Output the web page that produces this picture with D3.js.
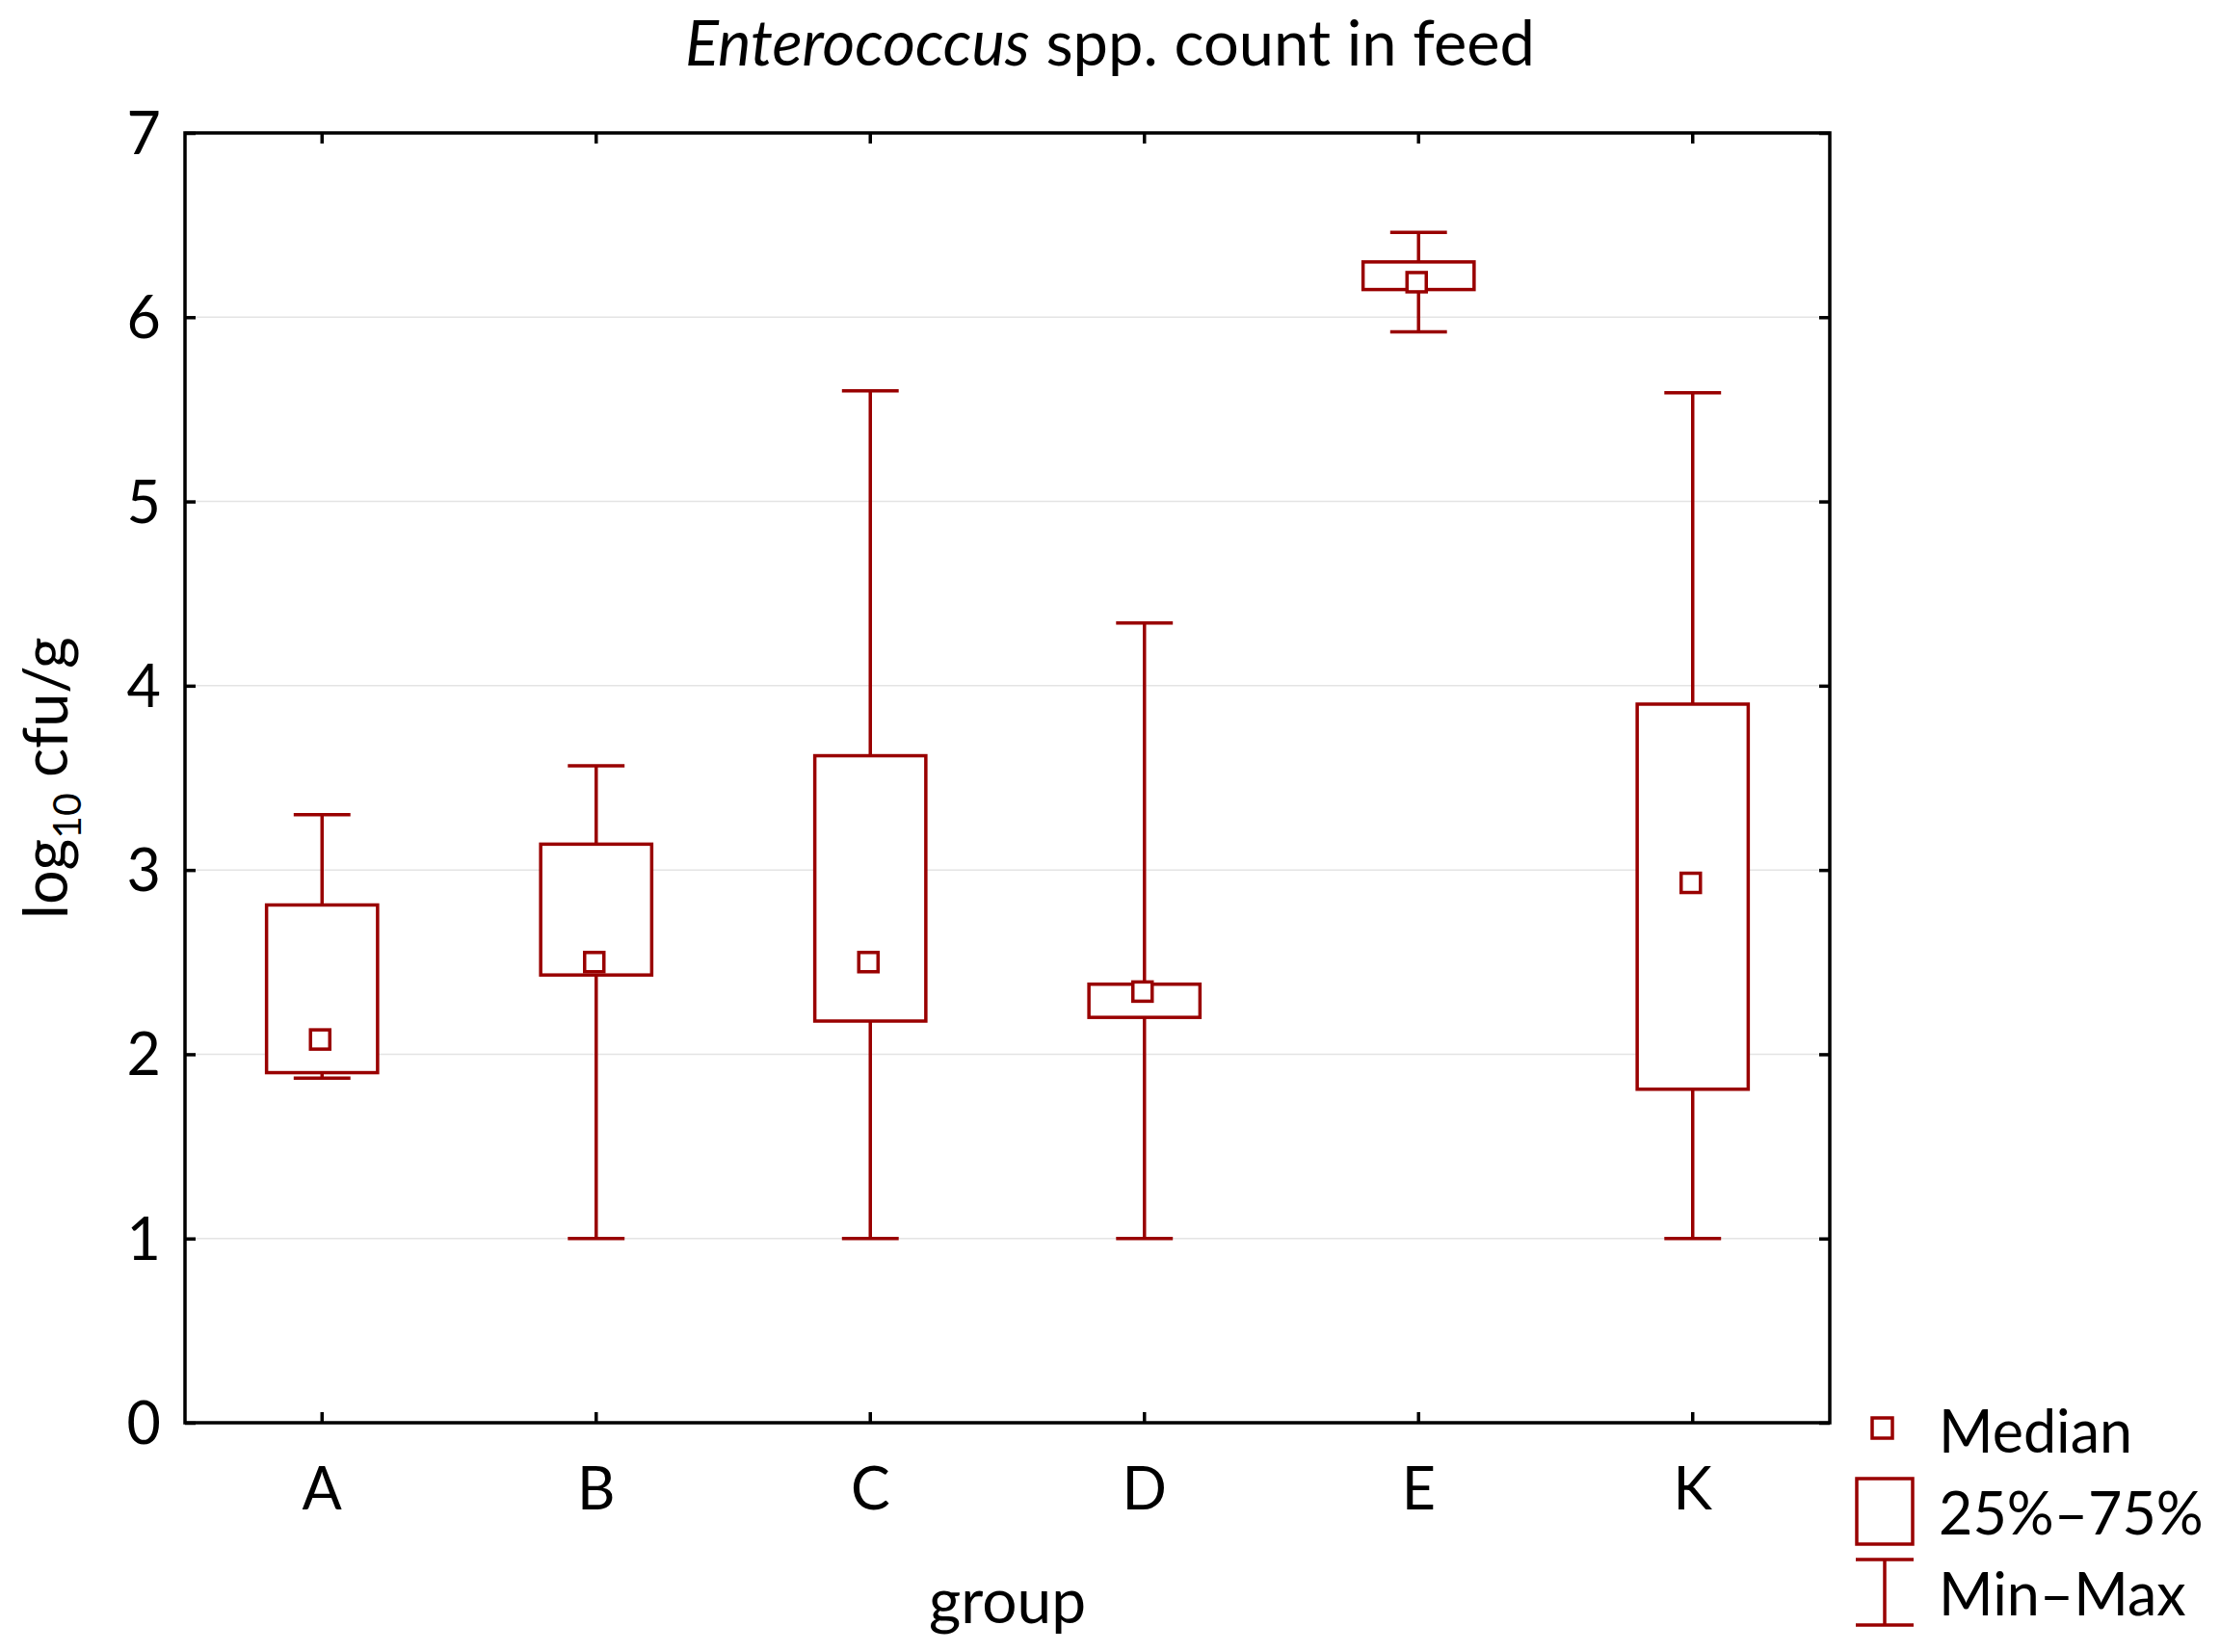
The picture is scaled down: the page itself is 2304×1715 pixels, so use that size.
<!DOCTYPE html>
<html>
<head>
<meta charset="utf-8">
<script src="https://cdn.jsdelivr.net/npm/d3@7"></script>
<style>
  body { margin: 0; background: #fff; }
  text { font-family: Lato, "Open Sans", sans-serif; fill: #000; }
</style>
</head>
<body>
<div id="chart"></div>
<script>
// data
const groups  = ['A', 'B', 'C', 'D', 'E', 'K'];
const minVals = [1.87, 1.00, 1.00, 1.00, 5.92, 1.00];
const q1Vals  = [1.90, 2.43, 2.18, 2.20, 6.15, 1.81];
const medVals = [2.08, 2.50, 2.50, 2.34, 6.19, 2.93];
const q3Vals  = [2.81, 3.14, 3.62, 2.38, 6.30, 3.90];
const maxVals = [3.30, 3.565, 5.60, 4.34, 6.46, 5.59];
const yTicks  = [0, 1, 2, 3, 4, 5, 6, 7];
const legendLabels = ['Median', '25%\u201375%', 'Min\u2013Max'];

const width = 2304, height = 1715;
const margin = {top: 138, right: 405, bottom: 238, left: 192};
const red = '#990000';
const strokeW = 3.5;

const svg = d3.select('#chart').append('svg')
    .attr('width', width)
    .attr('height', height);

const x = d3.scaleBand().domain(groups)
    .range([margin.left, width - margin.right])
    .padding(0);
const y = d3.scaleLinear().domain([0, 7])
    .range([height - margin.bottom, margin.top]);

const plotL = margin.left, plotR = width - margin.right;
const plotT = margin.top, plotB = height - margin.bottom;

// gridlines
svg.append('g').selectAll('line').data(yTicks.filter(d => d > 0 && d < 7))
  .join('line')
    .attr('x1', plotL).attr('x2', plotR)
    .attr('y1', d => y(d)).attr('y2', d => y(d))
    .attr('stroke', '#e4e4e4').attr('stroke-width', 1.5);

// axes with inner ticks on all sides
const tickLen = 11;
const axisLeft = svg.append('g').attr('transform', `translate(${plotL},0)`)
    .call(d3.axisRight(y).tickValues(yTicks).tickSize(tickLen).tickFormat(''));
const axisRight = svg.append('g').attr('transform', `translate(${plotR},0)`)
    .call(d3.axisLeft(y).tickValues(yTicks).tickSize(tickLen).tickFormat(''));
const axisBottom = svg.append('g').attr('transform', `translate(0,${plotB})`)
    .call(d3.axisTop(x).tickSize(tickLen).tickFormat(''));
const axisTop = svg.append('g').attr('transform', `translate(0,${plotT})`)
    .call(d3.axisBottom(x).tickSize(tickLen).tickFormat(''));
[axisLeft, axisRight, axisBottom, axisTop].forEach(a => {
  a.select('.domain').remove();
  a.selectAll('line').attr('stroke', '#000').attr('stroke-width', strokeW);
});

// frame
svg.append('rect')
    .attr('x', plotL).attr('y', plotT)
    .attr('width', plotR - plotL).attr('height', plotB - plotT)
    .attr('fill', 'none').attr('stroke', '#000').attr('stroke-width', strokeW);

// tick labels
svg.append('g').selectAll('text').data(yTicks)
  .join('text')
    .attr('x', plotL - 25).attr('y', d => y(d))
    .attr('dy', '0.36em')
    .attr('text-anchor', 'end')
    .style('font-size', '61px')
    .text(d => d);

svg.append('g').selectAll('text').data(groups)
  .join('text')
    .attr('x', d => x(d) + x.bandwidth() / 2)
    .attr('y', plotB + 90)
    .attr('text-anchor', 'middle')
    .style('font-size', '61px')
    .text(d => d);

// boxes
const boxW = x.bandwidth() * 0.405;
const capW = x.bandwidth() * 0.207;
const medS = 20;

const rows = groups.map((g, i) => ({
  g: g, min: minVals[i], q1: q1Vals[i], med: medVals[i], q3: q3Vals[i], max: maxVals[i]
}));

const boxG = svg.append('g').selectAll('g').data(rows).join('g')
    .attr('transform', d => `translate(${x(d.g) + x.bandwidth() / 2},0)`)
    .attr('stroke', red).attr('stroke-width', strokeW).attr('fill', 'none');

boxG.append('line')
    .attr('x1', 0).attr('x2', 0)
    .attr('y1', d => y(d.q3)).attr('y2', d => y(d.max));
boxG.append('line')
    .attr('x1', 0).attr('x2', 0)
    .attr('y1', d => y(d.q1)).attr('y2', d => y(d.min));
boxG.append('line')
    .attr('x1', -capW / 2).attr('x2', capW / 2)
    .attr('y1', d => y(d.max)).attr('y2', d => y(d.max));
boxG.append('line')
    .attr('x1', -capW / 2).attr('x2', capW / 2)
    .attr('y1', d => y(d.min)).attr('y2', d => y(d.min));
boxG.append('rect')
    .attr('x', -boxW / 2).attr('width', boxW)
    .attr('y', d => y(d.q3)).attr('height', d => y(d.q1) - y(d.q3))
    .attr('fill', '#fff');
boxG.append('rect')
    .attr('x', -medS / 2 - 2).attr('width', medS)
    .attr('y', d => y(d.med) - medS / 2).attr('height', medS)
    .attr('fill', '#fff');

// title
const title = svg.append('text')
    .attr('x', width / 2).attr('y', 68)
    .attr('text-anchor', 'middle')
    .style('font-size', '65px');
title.append('tspan').style('font-style', 'italic').text('Enterococcus');
title.append('tspan').text(' spp. count in feed');

// axis titles
svg.append('text')
    .attr('x', (plotL + plotR) / 2).attr('y', 1685)
    .attr('text-anchor', 'middle')
    .style('font-size', '64px')
    .text('group');

const yLab = svg.append('text')
    .attr('transform', `translate(70,${(plotT + plotB) / 2}) rotate(-90)`)
    .attr('text-anchor', 'middle')
    .style('font-size', '63px');
yLab.append('tspan').text('log');
yLab.append('tspan').attr('dy', 14).style('font-size', '41px').text('10');
yLab.append('tspan').attr('dy', -14).text(' cfu/g');

// legend
const lg = svg.append('g').attr('stroke', red).attr('stroke-width', strokeW).attr('fill', 'none');
lg.append('rect').attr('x', 1943).attr('y', 1472).attr('width', 21).attr('height', 21);
lg.append('rect').attr('x', 1927).attr('y', 1535).attr('width', 58).attr('height', 68);
lg.append('line').attr('x1', 1956).attr('x2', 1956).attr('y1', 1619).attr('y2', 1687);
lg.append('line').attr('x1', 1926).attr('x2', 1986).attr('y1', 1619).attr('y2', 1619);
lg.append('line').attr('x1', 1926).attr('x2', 1986).attr('y1', 1687).attr('y2', 1687);

svg.append('g').selectAll('text').data(legendLabels)
  .join('text')
    .attr('x', 2012)
    .attr('y', (d, i) => [1508, 1593, 1677][i])
    .style('font-size', '61px')
    .text(d => d);
</script>
</body>
</html>
